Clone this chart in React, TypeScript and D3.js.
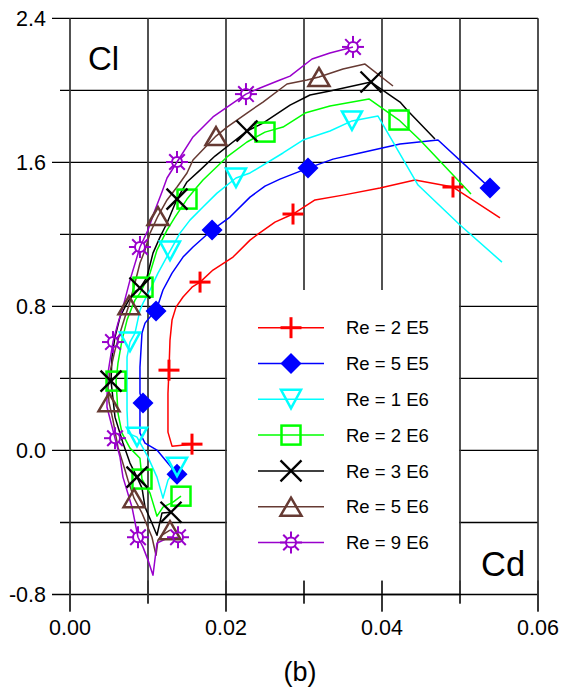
import React from "react";
import * as d3 from "d3";

type P = [number, number];

// Re = 2 E5
const re2e5: P[] = [
  [0.01564, 0.035], [0.01308, 0.024], [0.01256, 0.102], [0.01256, 0.318], [0.01269, 0.446],
  [0.01282, 0.613], [0.01308, 0.724], [0.01359, 0.796], [0.01449, 0.852], [0.01564, 0.907],
  [0.01667, 0.935], [0.01833, 1.002], [0.0209, 1.074], [0.02308, 1.168], [0.0241, 1.201],
  [0.02628, 1.268], [0.02859, 1.313], [0.03141, 1.391], [0.035, 1.418], [0.03974, 1.457],
  [0.04423, 1.502], [0.0491, 1.463], [0.05513, 1.291],
];
const re2e5Marks = [0, 4, 10, 16, 21];

// Re = 5 E5
const re5e5: P[] = [
  [0.01372, -0.132], [0.01256, -0.071], [0.01115, 0.002], [0.00962, 0.041], [0.00897, 0.096],
  [0.00897, 0.224], [0.00936, 0.263], [0.00897, 0.318], [0.00897, 0.463], [0.00923, 0.652],
  [0.00962, 0.707], [0.01026, 0.741], [0.01103, 0.774], [0.01192, 0.891], [0.01308, 0.985],
  [0.01449, 1.074], [0.01577, 1.13], [0.01821, 1.224], [0.02051, 1.296], [0.02308, 1.407],
  [0.025, 1.468], [0.02692, 1.507], [0.03051, 1.568], [0.03372, 1.618], [0.03718, 1.652],
  [0.04231, 1.702], [0.04718, 1.724], [0.05385, 1.457],
];
const re5e5Marks = [0, 6, 12, 17, 22, 27];

// Re = 1 E6
const re1e6: P[] = [
  [0.01372, -0.093], [0.01256, -0.165], [0.01192, -0.265], [0.01115, -0.148], [0.01, -0.037],
  [0.00859, 0.074], [0.00744, 0.096], [0.00731, 0.224], [0.00731, 0.374], [0.00731, 0.518],
  [0.00769, 0.602], [0.00833, 0.652], [0.00897, 0.779], [0.00936, 0.818], [0.01026, 0.891],
  [0.01128, 0.985], [0.01282, 1.107], [0.0141, 1.207], [0.01538, 1.279], [0.01705, 1.352],
  [0.01885, 1.429], [0.02128, 1.513], [0.02308, 1.541], [0.02731, 1.652], [0.02987, 1.724],
  [0.03333, 1.774], [0.03615, 1.83], [0.03949, 1.857], [0.04462, 1.474], [0.05, 1.252],
  [0.05538, 1.046],
];
const re1e6Marks = [0, 5, 10, 16, 21, 26];

// Re = 2 E6
const re2e6: P[] = [
  [0.01423, -0.254], [0.01321, -0.287], [0.01192, -0.315], [0.01115, -0.365], [0.01026, -0.237],
  [0.00923, -0.159], [0.00897, -0.043], [0.00769, 0.013], [0.00667, 0.096], [0.00615, 0.207],
  [0.00603, 0.296], [0.0059, 0.385], [0.00615, 0.485], [0.00667, 0.613], [0.00731, 0.724],
  [0.00795, 0.796], [0.00833, 0.835], [0.00897, 0.874], [0.00936, 0.907], [0.01026, 0.985],
  [0.01115, 1.113], [0.01244, 1.224], [0.01346, 1.296], [0.015, 1.396], [0.01628, 1.463],
  [0.01705, 1.502], [0.02013, 1.63], [0.02269, 1.713], [0.025, 1.768], [0.02731, 1.796],
  [0.03013, 1.874], [0.03333, 1.913], [0.03833, 1.952], [0.04218, 1.835], [0.04487, 1.724],
  [0.05141, 1.424],
];
const re2e6Marks = [0, 5, 11, 18, 23, 28, 33];

// Re = 3 E6
const re3e6: P[] = [
  [0.01295, -0.343], [0.01179, -0.348], [0.01115, -0.471], [0.01051, -0.404], [0.00962, -0.315],
  [0.00923, -0.209], [0.00859, -0.148], [0.00769, -0.07], [0.00679, 0.041], [0.00577, 0.185],
  [0.00526, 0.385], [0.00538, 0.518], [0.00577, 0.63], [0.00641, 0.741], [0.00718, 0.807],
  [0.00808, 0.874], [0.00897, 0.902], [0.00987, 0.963], [0.01064, 1.096], [0.01154, 1.185],
  [0.01244, 1.263], [0.01372, 1.396], [0.015, 1.491], [0.01667, 1.557], [0.01859, 1.635],
  [0.02269, 1.774], [0.02474, 1.818], [0.02821, 1.918], [0.03077, 1.974], [0.03333, 1.996],
  [0.03859, 2.046], [0.04231, 1.935], [0.04321, 1.891], [0.04679, 1.73],
];
const re3e6Marks = [0, 6, 10, 16, 21, 25, 30];

// Re = 5 E6
const re5e6: P[] = [
  [0.01282, -0.443], [0.01179, -0.47], [0.01128, -0.498], [0.01103, -0.582], [0.01051, -0.482],
  [0.00923, -0.348], [0.00821, -0.265], [0.00744, -0.165], [0.00705, -0.109], [0.00615, 0.018],
  [0.00551, 0.168], [0.005, 0.268], [0.00487, 0.352], [0.00513, 0.435], [0.00577, 0.557],
  [0.00641, 0.652], [0.00705, 0.741], [0.00756, 0.807], [0.00833, 0.93], [0.00897, 1.041],
  [0.00962, 1.113], [0.01026, 1.207], [0.01128, 1.302], [0.01244, 1.391], [0.01372, 1.463],
  [0.015, 1.541], [0.01577, 1.613], [0.01872, 1.746], [0.02013, 1.796], [0.02269, 1.874],
  [0.02474, 1.935], [0.02782, 2.035], [0.03038, 2.057], [0.03192, 2.074], [0.035, 2.118],
  [0.03782, 2.146], [0.04141, 2.024],
];
const re5e6Marks = [0, 6, 11, 17, 22, 27, 33];

// Re = 9 E6
const re9e6: P[] = [
  [0.01385, -0.482], [0.01218, -0.493], [0.01115, -0.515], [0.01064, -0.693], [0.01, -0.609],
  [0.00936, -0.537], [0.00872, -0.482], [0.00795, -0.315], [0.00679, -0.148], [0.00641, -0.037],
  [0.00577, 0.068], [0.00474, 0.241], [0.00474, 0.296], [0.00487, 0.43], [0.00513, 0.502],
  [0.00551, 0.602], [0.00615, 0.707], [0.00679, 0.796], [0.00769, 0.946], [0.00859, 1.074],
  [0.00897, 1.13], [0.01, 1.224], [0.0109, 1.335], [0.01179, 1.435], [0.01244, 1.513],
  [0.01372, 1.602], [0.01577, 1.741], [0.01833, 1.852], [0.02051, 1.918], [0.02256, 1.979],
  [0.02436, 2.013], [0.02692, 2.057], [0.02821, 2.079], [0.03103, 2.174], [0.03333, 2.207],
  [0.03628, 2.241],
];
const re9e6Marks = [0, 6, 10, 15, 20, 25, 29, 35];

const seriesNames = ["Re = 2 E5", "Re = 5 E5", "Re = 1 E6", "Re = 2 E6", "Re = 3 E6", "Re = 5 E6", "Re = 9 E6"];
const seriesData = [re2e5, re5e5, re1e6, re2e6, re3e6, re5e6, re9e6];
const seriesMarks = [re2e5Marks, re5e5Marks, re1e6Marks, re2e6Marks, re3e6Marks, re5e6Marks, re9e6Marks];
const seriesColors = ["#ff0000", "#0000ff", "#00ffff", "#00ff00", "#000000", "#663a33", "#9900cc"];
const seriesShapes = ["plus", "diamond", "tridown", "square", "cross", "triup", "sun"];

const xGrid = [0, 0.01, 0.02, 0.03, 0.04, 0.05, 0.06];
const xLabels = ["0.00", "", "0.02", "", "0.04", "", "0.06"];
const yGrid = [-0.8, -0.4, 0, 0.4, 0.8, 1.2, 1.6, 2.0, 2.4];
const yLabels = ["-0.8", "", "0.0", "", "0.8", "", "1.6", "", "2.4"];

const FONT = "'Liberation Sans', Arial, Helvetica, sans-serif";

function Marker({ shape, color, cx, cy }: { shape: string; color: string; cx: number; cy: number }) {
  const t = `translate(${cx},${cy})`;
  switch (shape) {
    case "plus":
      return (
        <g transform={t} stroke={color} strokeWidth={3}>
          <line x1={-10.5} x2={10.5} y1={0} y2={0} />
          <line x1={0} x2={0} y1={-10.5} y2={10.5} />
        </g>
      );
    case "diamond":
      return <path transform={t} d="M0,-10.5L10.5,0L0,10.5L-10.5,0Z" fill={color} />;
    case "tridown":
      return <path transform={t} d="M-10,-9.5L10,-9.5L0,9Z" fill="none" stroke={color} strokeWidth={2.5} />;
    case "square":
      return <rect transform={t} x={-9.5} y={-9.5} width={19} height={19} fill="none" stroke={color} strokeWidth={2.5} />;
    case "cross":
      return (
        <g transform={t} stroke={color} strokeWidth={2.3}>
          <line x1={-10.5} y1={-10.5} x2={10.5} y2={10.5} />
          <line x1={-10.5} y1={10.5} x2={10.5} y2={-10.5} />
        </g>
      );
    case "triup":
      return <path transform={t} d="M0,-9L10.5,9L-10.5,9Z" fill="none" stroke={color} strokeWidth={2.5} />;
    case "sun": {
      const rays = d3.range(8).map((i) => (i * Math.PI) / 4);
      return (
        <g transform={t} stroke={color} strokeWidth={2} fill="none">
          <circle r={5} />
          {rays.map((a, i) => (
            <line key={i} x1={5 * Math.cos(a)} y1={5 * Math.sin(a)} x2={11 * Math.cos(a)} y2={11 * Math.sin(a)} />
          ))}
        </g>
      );
    }
  }
  return null;
}

export default function App() {
  const left = 70, right = 538, top = 18.3, bottom = 594.5;
  const x = d3.scaleLinear().domain([0, 0.06]).range([left, right]);
  const y = d3.scaleLinear().domain([-0.8, 2.4]).range([bottom, top]);
  const line = d3.line<P>().x((d) => x(d[0])).y((d) => y(d[1]));

  const box = { x0: x(0.02) + 1, x1: x(0.05) - 1, y0: 290, y1: 581 };
  const legX0 = 258, legX1 = 324, legM = 291, legText = 346, legY0 = 327.7, legDy = 35.8;

  return (
    <svg width={565} height={690} style={{ position: "absolute", left: 0, top: 0, background: "#fff" }} fontFamily={FONT}>
      <rect width={565} height={690} fill="#fff" />
      {/* horizontal grid */}
      {yGrid.map((v, i) => (
        <line key={"h" + i} x1={yLabels[i] ? 52 : 60} x2={right} y1={y(v)} y2={y(v)} stroke="#000" strokeWidth={1.3} />
      ))}
      {/* vertical grid */}
      {xGrid.map((v, i) => (
        <line key={"v" + i} x1={x(v)} x2={x(v)} y1={top} y2={bottom + (xLabels[i] ? 17 : 9)} stroke="#333" strokeWidth={1.7} />
      ))}
      {/* legend background */}
      <rect x={box.x0} y={box.y0} width={box.x1 - box.x0} height={box.y1 - box.y0} fill="#fff" />
      {/* ticks on bottom axis under the legend */}
      {xGrid.map((v, i) => (
        <line key={"t" + i} x1={x(v)} x2={x(v)} y1={bottom - 14} y2={bottom + (xLabels[i] ? 17 : 9)} stroke="#333" strokeWidth={1.7} />
      ))}
      <line x1={box.x0 - 2} x2={box.x1 + 2} y1={bottom} y2={bottom} stroke="#000" strokeWidth={1.3} />

      {/* tick labels */}
      {yGrid.map((v, i) =>
        yLabels[i] ? (
          <text key={"yl" + i} x={46} y={y(v) + 7.5} textAnchor="end" fontSize={21.5} fill="#000">
            {yLabels[i]}
          </text>
        ) : null
      )}
      {xGrid.map((v, i) =>
        xLabels[i] ? (
          <text key={"xl" + i} x={x(v)} y={635} textAnchor="middle" fontSize={21.5} fill="#000">
            {xLabels[i]}
          </text>
        ) : null
      )}
      <text x={300} y={681} textAnchor="middle" fontSize={27} fill="#000">(b)</text>
      <text x={88} y={70} fontSize={33} fill="#000">Cl</text>
      <text x={481} y={576} fontSize={34.5} fill="#000">Cd</text>

      {/* series lines */}
      {seriesData.map((s, i) => (
        <path key={"l" + i} d={line(s) || ""} fill="none" stroke={seriesColors[i]} strokeWidth={1.5} strokeLinejoin="round" />
      ))}
      {/* markers */}
      {seriesData.map((s, i) => (
        <g key={"m" + i}>
          {seriesMarks[i].map((k) => (
            <Marker key={k} shape={seriesShapes[i]} color={seriesColors[i]} cx={x(s[k][0])} cy={y(s[k][1])} />
          ))}
        </g>
      ))}

      {/* legend */}
      {seriesNames.map((n, i) => {
        const ly = legY0 + i * legDy;
        return (
          <g key={"lg" + i}>
            <line x1={legX0} x2={legX1} y1={ly} y2={ly} stroke={seriesColors[i]} strokeWidth={1.5} />
            <Marker shape={seriesShapes[i]} color={seriesColors[i]} cx={legM} cy={ly} />
            <text x={legText} y={ly + 6.6} fontSize={18.5} fill="#000">{n}</text>
          </g>
        );
      })}
    </svg>
  );
}
